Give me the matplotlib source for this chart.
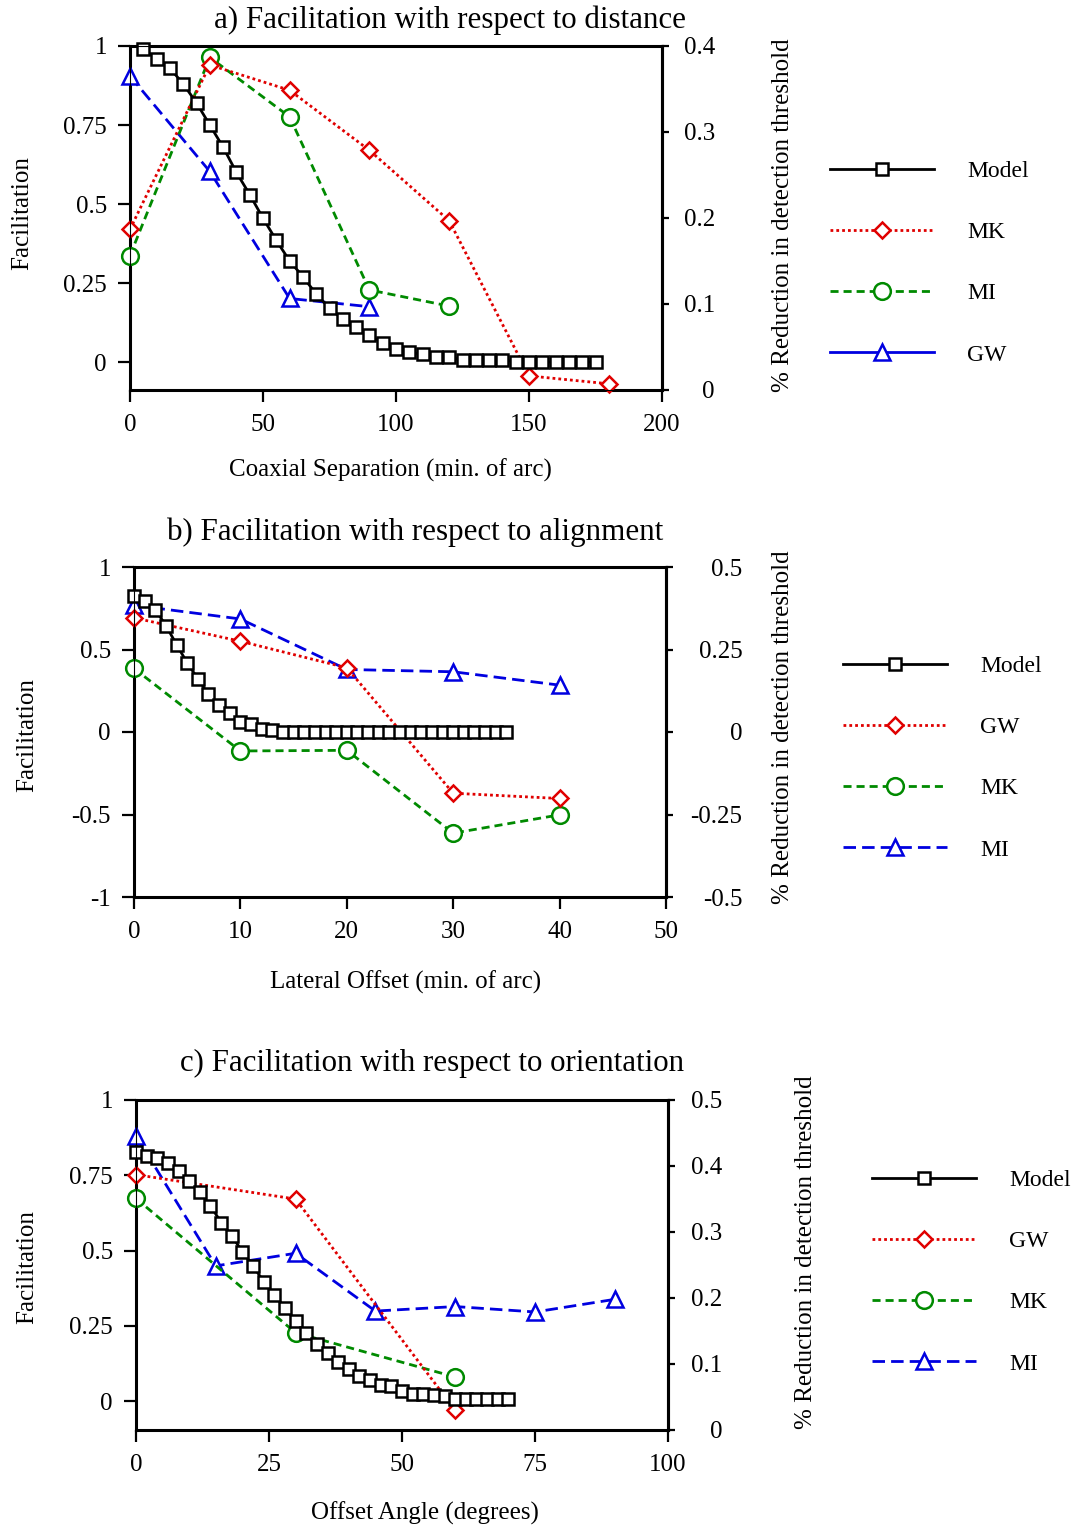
"""Redraw the three facilitation panels (distance, alignment, orientation)."""

import matplotlib

matplotlib.use("Agg")
import matplotlib.pyplot as plt  # noqa: E402
import numpy as np  # noqa: E402
from matplotlib.lines import Line2D  # noqa: E402

# ---- a) facilitation vs coaxial separation (min. of arc)
A_MODEL_X = np.arange(5, 180, 5)
A_MODEL_Y = [0.99, 0.96, 0.93, 0.88, 0.82, 0.75, 0.68, 0.60, 0.53, 0.455,
             0.385, 0.32, 0.27, 0.215, 0.17, 0.135, 0.11, 0.085, 0.06, 0.042,
             0.032, 0.024, 0.016, 0.016, 0.006, 0.006, 0.007, 0.007,
             0, 0, 0, 0, 0, 0, 0]
A_MK_X = [0, 30, 60, 90, 120, 150, 180]
A_MK_Y = [0.42, 0.94, 0.86, 0.67, 0.447, -0.044, -0.069]
A_MI_X = [0, 30, 60, 90, 120]
A_MI_Y = [0.337, 0.964, 0.776, 0.228, 0.177]
A_GW_X = [0, 30, 60, 90]
A_GW_Y = [0.905, 0.603, 0.201, 0.175]

# ---- b) facilitation vs lateral offset (min. of arc)
B_MODEL_X = np.arange(0, 36)
B_MODEL_Y = [0.827, 0.792, 0.742, 0.645, 0.530, 0.419, 0.323, 0.228, 0.163,
             0.113, 0.0625, 0.046, 0.016, 0.012] + [0.0] * 22
B_DATA_X = [0, 10, 20, 30, 40]
B_GW_Y = [0.692, 0.550, 0.389, -0.371, -0.403]
B_MK_Y = [0.385, -0.115, -0.111, -0.613, -0.502]
B_MI_Y = [0.768, 0.685, 0.379, 0.365, 0.284]

# ---- c) facilitation vs offset angle (degrees)
C_MODEL_X = np.arange(0, 71, 2)
C_MODEL_Y = [0.826, 0.815, 0.806, 0.790, 0.765, 0.732, 0.693, 0.649, 0.593,
             0.549, 0.496, 0.449, 0.397, 0.353, 0.310, 0.266, 0.227, 0.188,
             0.159, 0.130, 0.105, 0.083, 0.070, 0.055, 0.050, 0.033, 0.025,
             0.024, 0.019, 0.017, 0.008, 0.008, 0.008, 0.008, 0.008, 0.008]
C_GW_X = [0, 30, 60]
C_GW_Y = [0.752, 0.671, -0.030]
C_MK_X = [0, 30, 60]
C_MK_Y = [0.673, 0.227, 0.080]
C_MI_X = [0, 15, 30, 45, 60, 75, 90]
C_MI_Y = [0.881, 0.449, 0.491, 0.299, 0.314, 0.296, 0.338]

TITLES = ["a) Facilitation with respect to distance",
          "b) Facilitation with respect to alignment",
          "c) Facilitation with respect to orientation"]
XLABELS = ["Coaxial Separation (min. of arc)",
           "Lateral Offset (min. of arc)",
           "Offset Angle (degrees)"]
LEFT_TICKS = [[0, 0.25, 0.5, 0.75, 1], [-1, -0.5, 0, 0.5, 1],
              [0, 0.25, 0.5, 0.75, 1]]
LEFT_LABELS = [["0", "0.25", "0.5", "0.75", "1"], ["-1", "-0.5", "0", "0.5", "1"],
               ["0", "0.25", "0.5", "0.75", "1"]]
RIGHT_TICKS = [[0, 0.1, 0.2, 0.3, 0.4], [-0.5, -0.25, 0, 0.25, 0.5],
               [0, 0.1, 0.2, 0.3, 0.4, 0.5]]
RIGHT_LABELS = [["0", "0.1", "0.2", "0.3", "0.4"],
                ["-0.5", "-0.25", "0", "0.25", "0.5"],
                ["0", "0.1", "0.2", "0.3", "0.4", "0.5"]]
X_TICKS = [[0, 50, 100, 150, 200], [0, 10, 20, 30, 40, 50],
           [0, 25, 50, 75, 100]]
RIGHT_LABEL = "% Reduction in detection threshold"

W, H = 1077, 1528
FONT = "Liberation Serif"

STYLES = {
    "black": dict(color="black", marker="s", markersize=9, linestyle="-"),
    "red": dict(color="#e00000", marker="D", markersize=8.5, dashes=(1.0, 1.1)),
    "green": dict(color="#008a00", marker="o", markersize=12, dashes=(2.9, 1.8)),
    "blue": dict(color="#0000e0", marker="^", markersize=11, dashes=(4.5, 2.2)),
}


def draw_series(axis, x, y, style, zorder=3):
    kw = dict(STYLES[style])
    axis.plot(x, y, linewidth=2, markerfacecolor="white",
              markeredgewidth=1.8, zorder=zorder, clip_on=False, **kw)


def legend_handle(style, label, solid=False):
    kw = dict(STYLES[style])
    if solid:
        kw.pop("dashes", None)
        kw["linestyle"] = "-"
    return Line2D([], [], linewidth=2, markerfacecolor="white",
                  markeredgewidth=1.8, label=label, **kw)


def make_panel(fig, box, xlim, ylim, ylim_right, idx, right_pad,
               xlabel_xy, ylabel_xy, rlabel_xy):
    left, top, right, bottom = box
    axis = fig.add_axes([left / W, 1 - bottom / H, (right - left) / W,
                         (bottom - top) / H])
    axis.set_xlim(*xlim)
    axis.set_ylim(*ylim)
    for side in ("left", "right", "bottom", "top"):
        axis.spines[side].set_linewidth(2.2)
    axis.set_xticks(X_TICKS[idx])
    axis.set_xticklabels([str(t) for t in X_TICKS[idx]])
    axis.set_yticks(LEFT_TICKS[idx])
    axis.set_yticklabels(LEFT_LABELS[idx])
    axis.tick_params(direction="out", length=8.6, width=1.6, labelsize=18,
                     pad=8)
    axis.tick_params(axis="x", pad=9)
    axis.set_xlabel(XLABELS[idx], fontsize=18)
    axis.xaxis.set_label_coords(*xlabel_xy)
    axis.xaxis.label.set_verticalalignment("center")
    axis.set_ylabel("Facilitation", fontsize=18)
    axis.yaxis.set_label_coords(*ylabel_xy)
    axis.yaxis.label.set_verticalalignment("center")

    twin = axis.twinx()
    twin.set_ylim(*ylim_right)
    twin.set_yticks(RIGHT_TICKS[idx])
    twin.set_yticklabels(RIGHT_LABELS[idx])
    twin.tick_params(direction="out", length=5, width=1.6, labelsize=18,
                     pad=right_pad)
    for label in twin.get_yticklabels():
        label.set_horizontalalignment("right")
    twin.set_ylabel(RIGHT_LABEL, fontsize=18)
    twin.yaxis.set_label_coords(*rlabel_xy)
    twin.yaxis.label.set_verticalalignment("center")
    twin.spines["right"].set_linewidth(2.2)
    return axis


def add_legend(axis, fig, handles, x_px, yc_px):
    axis.legend(handles=handles, loc="center left",
                bbox_to_anchor=(x_px / W, 1 - yc_px / H),
                bbox_transform=fig.transFigure, frameon=False, fontsize=17,
                numpoints=1, handlelength=4.4, handletextpad=1.4,
                labelspacing=1.68, borderpad=0, borderaxespad=0)


def main():
    plt.rcParams["font.family"] = [FONT, "DejaVu Serif"]
    fig = plt.figure(figsize=(W / 100, H / 100), dpi=100)

    # a)
    ax_a = make_panel(fig, (130, 46, 662, 390), (0, 200), (-0.0886, 1.0),
                      (0, 0.4), 0, 33, (0.489, -0.233), (-0.203, 0.515),
                      (1.227, 0.509))
    draw_series(ax_a, A_GW_X, A_GW_Y, "blue")
    draw_series(ax_a, A_MI_X, A_MI_Y, "green")
    draw_series(ax_a, A_MK_X, A_MK_Y, "red")
    draw_series(ax_a, A_MODEL_X, A_MODEL_Y, "black", zorder=4)
    add_legend(ax_a, fig, [legend_handle("black", "Model"),
                           legend_handle("red", "MK"),
                           legend_handle("green", "MI"),
                           legend_handle("blue", "GW", solid=True)], 830, 263)
    fig.text(450 / W, 1 - 20 / H, TITLES[0], fontsize=22.3, ha="center",
             va="center")

    # b)
    ax_b = make_panel(fig, (134, 567, 666, 897), (0, 50), (-1, 1),
                      (-0.5, 0.5), 1, 50, (0.511, -0.258), (-0.201, 0.491),
                      (1.220, 0.515))
    draw_series(ax_b, B_DATA_X, B_MI_Y, "blue")
    draw_series(ax_b, B_DATA_X, B_MK_Y, "green")
    draw_series(ax_b, B_DATA_X, B_GW_Y, "red")
    draw_series(ax_b, B_MODEL_X, B_MODEL_Y, "black", zorder=4)
    add_legend(ax_b, fig, [legend_handle("black", "Model"),
                           legend_handle("red", "GW"),
                           legend_handle("green", "MK"),
                           legend_handle("blue", "MI")], 843, 758)
    fig.text(415 / W, 1 - 532 / H, TITLES[1], fontsize=22.3, ha="center",
             va="center")

    # c)
    ax_c = make_panel(fig, (136, 1100, 668, 1430), (0, 100), (-0.096, 1.0),
                      (0, 0.5), 2, 34, (0.543, -0.252), (-0.205, 0.494),
                      (1.259, 0.539))
    draw_series(ax_c, C_MI_X, C_MI_Y, "blue")
    draw_series(ax_c, C_MK_X, C_MK_Y, "green")
    draw_series(ax_c, C_GW_X, C_GW_Y, "red")
    draw_series(ax_c, C_MODEL_X, C_MODEL_Y, "black", zorder=4)
    add_legend(ax_c, fig, [legend_handle("black", "Model"),
                           legend_handle("red", "GW"),
                           legend_handle("green", "MK"),
                           legend_handle("blue", "MI")], 872, 1272)
    fig.text(432 / W, 1 - 1063 / H, TITLES[2], fontsize=22.3, ha="center",
             va="center")

    fig.savefig("out.png", dpi=100)
    plt.close(fig)


if __name__ == "__main__":
    main()
